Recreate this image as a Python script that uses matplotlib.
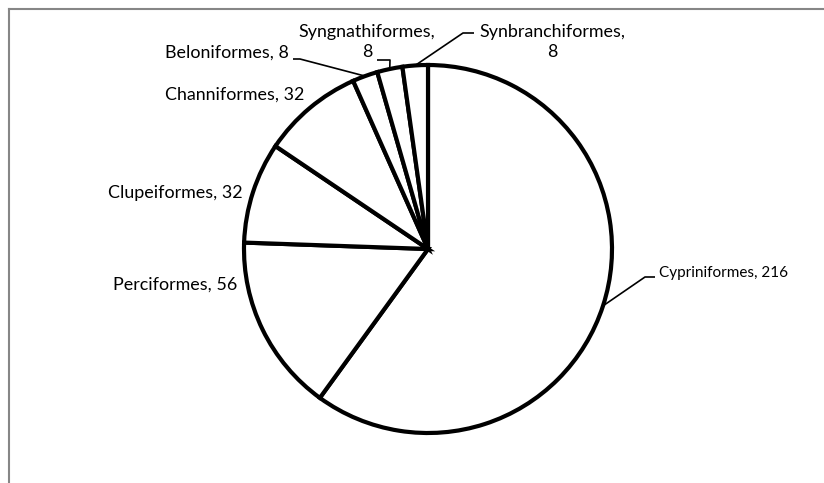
import matplotlib
matplotlib.use("Agg")
import matplotlib.pyplot as plt
import numpy as np
from matplotlib.lines import Line2D

categories = ["Cypriniformes", "Perciformes", "Clupeiformes", "Channiformes",
              "Beloniformes", "Syngnathiformes", "Synbranchiformes"]
values = [216, 56, 32, 32, 8, 8, 8]

W, H = 824, 483
plt.rcParams['font.family'] = ['Lato', 'DejaVu Sans']

fig = plt.figure(figsize=(W / 100, H / 100), dpi=100)
ax = fig.add_axes([0, 0, 1, 1])

cx, cy, R = 428, H - 249, 184
wedges, _ = ax.pie(values, startangle=90, counterclock=False,
                   center=(cx, cy), radius=R,
                   wedgeprops=dict(facecolor='white', edgecolor='black', linewidth=3.0))
ax.set_xlim(0, W)
ax.set_ylim(0, H)
ax.set_aspect('equal')
ax.axis('off')

FS = 12.9
layout = {
    "Cypriniformes": dict(pos=(659, 273), ha='left', elbow=[(645, 277), (655, 277)], fs=11.0, multiline=False),
    "Perciformes": dict(pos=(237, 285), ha='right', elbow=None, fs=FS, multiline=False),
    "Clupeiformes": dict(pos=(243, 193), ha='right', elbow=None, fs=FS, multiline=False),
    "Channiformes": dict(pos=(304, 95), ha='right', elbow=None, fs=FS, multiline=False),
    "Beloniformes": dict(pos=(289, 53), ha='right', elbow=[(300, 59), (293, 59)], fs=FS, multiline=False),
    "Syngnathiformes": dict(pos=(367, 42), ha='center', elbow=[(390, 60), (377, 60)], fs=FS, multiline=True),
    "Synbranchiformes": dict(pos=(552, 42), ha='center', elbow=[(463, 33), (474, 33)], fs=FS, multiline=True),
}

for w, name, val in zip(wedges, categories, values):
    L = layout[name]
    sep = "\n" if L['multiline'] else " "
    label = f"{name},{sep}{val}"
    x, y = L['pos']
    ax.text(x, H - y, label, ha=L['ha'], va='center', fontsize=L['fs'],
            color='black', multialignment='center', linespacing=1.3)
    if L['elbow']:
        mid = np.deg2rad((w.theta1 + w.theta2) / 2)
        ax_pt = (cx + R * np.cos(mid), cy + R * np.sin(mid))
        xs = [ax_pt[0]] + [p[0] for p in L['elbow']]
        ys = [ax_pt[1]] + [H - p[1] for p in L['elbow']]
        ax.plot(xs, ys, color='black', lw=1.2, solid_capstyle='butt')

# chart-area border (only top and left visible)
fig.add_artist(Line2D([8.5 / W, 8.5 / W], [0, 1 - 9 / H], transform=fig.transFigure,
                      color='#868686', lw=1.5))
fig.add_artist(Line2D([8.5 / W, 1], [1 - 9 / H, 1 - 9 / H], transform=fig.transFigure,
                      color='#868686', lw=1.5))

fig.savefig("out.png", dpi=100, facecolor='white')
